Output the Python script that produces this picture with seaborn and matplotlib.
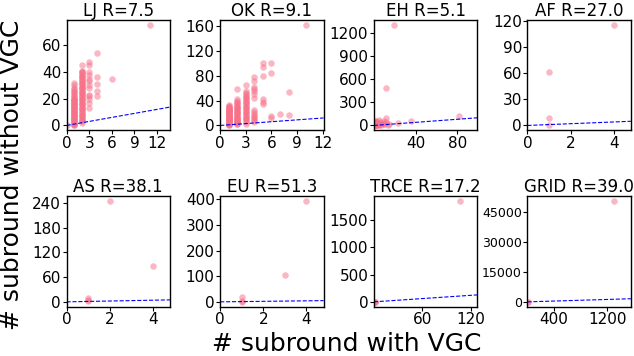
import numpy as np
import pandas as pd
import matplotlib
matplotlib.use("Agg")
import matplotlib.pyplot as plt
import seaborn as sns

# values: x (# subround with VGC) -> list of y (# subround without VGC)
lj_pts = {
    0: [0],
    1: [0, 0, 1, 1, 2, 2, 3, 3, 4, 4, 5, 5, 6, 6, 7, 7, 8, 8, 9, 9, 10, 10, 11, 11, 12, 12,
        13, 13, 14, 14, 15, 15, 16, 16, 17, 17, 18, 18, 19, 19, 20, 20, 21, 22, 23, 24,
        25, 26, 27, 28, 30, 32],
    2: [2, 3, 4, 5, 6, 7, 8, 9, 10, 11, 12, 13, 14, 15, 16, 17, 18, 19, 20, 21, 22, 23,
        24, 25, 26, 27, 28, 29, 30, 31, 32, 33, 34, 35, 36, 37, 38, 39, 40, 41, 45,
        4, 8, 12, 16, 20, 24, 28, 32, 36, 40],
    3: [13, 17, 20, 22, 23, 28, 30, 33, 35, 38, 40, 45, 47],
    4: [22, 26, 31, 36, 54],
    6: [35],
    11: [75],
}
ok_pts = {
    1: [0, 1, 2, 3, 4, 5, 6, 7, 8, 9, 10, 11, 12, 13, 14, 15, 16, 17, 18, 19, 20, 21,
        22, 23, 24, 25, 26, 27, 28, 29, 30, 31, 33, 2, 5, 8, 11, 14, 17, 20, 23, 26],
    2: [2, 3, 4, 5, 6, 7, 8, 9, 10, 12, 14, 16, 18, 20, 22, 24, 26, 28, 30, 32, 34, 36,
        38, 40, 42, 58, 5, 10, 15, 20, 25, 30],
    3: [3, 5, 8, 10, 12, 14, 16, 18, 20, 22, 24, 26, 28, 30, 32, 34, 36, 38, 40, 42, 44,
        46, 48, 50, 52, 55, 66],
    4: [5, 8, 10, 13, 15, 18, 22, 25, 45, 50, 55, 58, 62, 72, 78],
    5: [35, 38, 42, 79, 95, 100],
    6: [12, 15, 84, 101],
    7: [19],
    8: [17, 54],
    10: [162],
}
eh_x = [1, 1, 1, 1, 1, 1, 2, 2, 2, 2, 3, 3, 3, 4, 4, 5, 5, 5, 6, 6, 7, 8, 9, 10, 11,
        12, 12, 12, 14, 15, 19, 23, 36, 82]
eh_y = [0, 5, 10, 20, 40, 60, 0, 10, 30, 55, 5, 20, 45, 10, 30, 0, 15, 70, 20, 40, 10,
        30, 15, 55, 20, 40, 100, 490, 10, 25, 1300, 30, 55, 120]
af_x = [1, 1, 1, 4]
af_y = [1, 9, 62, 116]
as_x = [1, 1, 1, 2, 4]
as_y = [1, 5, 9, 244, 86]
eu_x = [1, 1, 1, 3, 4]
eu_y = [1, 5, 18, 104, 392]
trce_x = [1, 1, 2, 107]
trce_y = [1, 3, 5, 1845]
grid_x = [1, 2, 1296]
grid_y = [1, 3, 50300]

titles = ["LJ R=7.5", "OK R=9.1", "EH R=5.1", "AF R=27.0",
          "AS R=38.1", "EU R=51.3", "TRCE R=17.2", "GRID R=39.0"]
x_max = [13.7, 12.1, 99, 4.8, 4.8, 4.8, 128, 1555]
x_ticks = [[0, 3, 6, 9, 12], [0, 3, 6, 9, 12], [40, 80], [0, 2, 4],
           [0, 2, 4], [0, 2, 4], [60, 120], [400, 1200]]
y_ticks = [[0, 20, 40, 60], [0, 40, 80, 120, 160], [0, 300, 600, 900, 1200],
           [0, 30, 60, 90, 120], [0, 60, 120, 180, 240], [0, 100, 200, 300, 400],
           [0, 500, 1000, 1500], [0, 15000, 30000, 45000]]


def cols_to_df(pts):
    xs, ys = [], []
    for k, v in pts.items():
        xs += [k] * len(v)
        ys += v
    return pd.DataFrame({"x": xs, "y": ys})


frames = [
    cols_to_df(lj_pts),
    cols_to_df(ok_pts),
    pd.DataFrame({"x": eh_x, "y": eh_y}),
    pd.DataFrame({"x": af_x, "y": af_y}),
    pd.DataFrame({"x": as_x, "y": as_y}),
    pd.DataFrame({"x": eu_x, "y": eu_y}),
    pd.DataFrame({"x": trce_x, "y": trce_y}),
    pd.DataFrame({"x": grid_x, "y": grid_y}),
]

sns.set_style("ticks", {"text.color": "black", "axes.labelcolor": "black",
                        "xtick.color": "black", "ytick.color": "black",
                        "axes.edgecolor": "black"})
plt.rcParams["font.family"] = ["DejaVu Sans"]

fig, axes = plt.subplots(2, 4, figsize=(6.34, 3.56), dpi=100)
fig.subplots_adjust(left=0.105, right=0.995, top=0.944, bottom=0.138,
                    wspace=0.486, hspace=0.596)

for i, ax in enumerate(axes.flat):
    df = frames[i]
    sns.scatterplot(data=df, x="x", y="y", ax=ax, color="#f77189", alpha=0.5,
                    s=22, linewidth=0)
    ax.axline((0, 0), slope=1, color="blue", ls="--", lw=0.8)
    ax.set_xlim(0, x_max[i])
    ax.set_xticks(x_ticks[i])
    ax.set_yticks(y_ticks[i])
    ax.set_title(titles[i], fontsize=12, pad=3, color="black")
    ax.set_xlabel("")
    ax.set_ylabel("")
    ax.tick_params(labelsize=11, length=3, pad=1, colors="black")
    for sp in ax.spines.values():
        sp.set_color("black")
        sp.set_linewidth(1)

axes[1, 3].tick_params(axis="y", labelsize=9)

fig.supxlabel("# subround with VGC", fontsize=18, x=0.547, y=0.0, color="black")
fig.supylabel("# subround without VGC", fontsize=18, x=0.0, y=0.51, color="black")

fig.savefig("out.png", dpi=100)
